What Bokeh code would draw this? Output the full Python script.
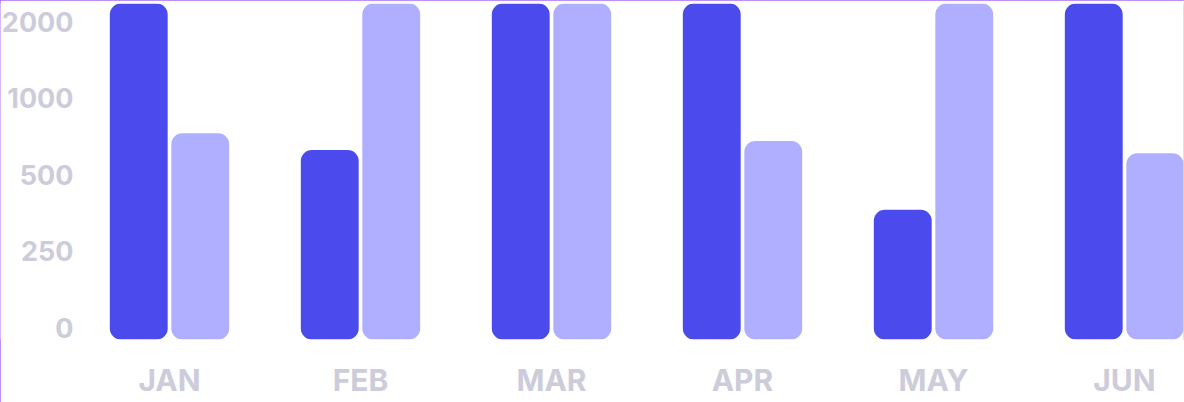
import numpy as np
from bokeh.plotting import figure
from bokeh.models import FixedTicker, Range1d, ColumnDataSource
from bokeh.core.properties import value
from bokeh.transform import dodge
from bokeh.embed import file_html
from bokeh.resources import INLINE

months = ["JAN", "FEB", "MAR", "APR", "MAY", "JUN"]
series_a = [2400, 740, 2400, 2400, 425, 2400]
series_b = [850, 2400, 2400, 800, 2400, 720]
tick_values = [0, 250, 500, 1000, 2000]
tick_labels = ["0", "250", "500", "1000", "2000"]

DARK = "#4B4BED"
LIGHT = "#B0AEFF"
TEXT = "#CDCCDA"
FONT = "Inter"


def to_index(v):
    v = np.asarray(v, dtype=float)
    idx = np.interp(v, tick_values, np.arange(len(tick_values)))
    over = v > tick_values[-1]
    slope = tick_values[-1] - tick_values[-2]
    idx[over] = (len(tick_values) - 1) + (v[over] - tick_values[-1]) / slope
    return idx


x = np.arange(len(months))
src = ColumnDataSource(dict(
    x=x,
    a=to_index(series_a),
    b=to_index(series_b),
))

PX_PER_CAT = 191.0
x_start = -169 / PX_PER_CAT
x_end = 5 + (1183 - 1124) / PX_PER_CAT

p = figure(width=1184, height=402, output_backend="svg", toolbar_location=None,
           x_range=Range1d(x_start, x_end), y_range=Range1d(0, float(to_index([2400])[0])),
           min_border_left=0, min_border_right=1, min_border_top=3, min_border_bottom=63)
p.styles = {"outline": "1px solid #A86CF5", "outline-offset": "-1px"}

off = 0.161
w = 0.303
p.vbar(x=dodge("x", -off), top="a", bottom=0, width=w, source=src, fill_color=DARK,
       line_color=None, border_radius=11)
p.vbar(x=dodge("x", off), top="b", bottom=0, width=w, source=src, fill_color=LIGHT,
       line_color=None, border_radius=11)

p.grid.visible = False
p.outline_line_color = None
p.background_fill_color = "white"
p.border_fill_color = "white"

# y tick labels drawn as text inside the plot area (they sit on their tick baseline,
# so their centres are nudged up slightly)
label_shift = 0.157
label_x = x_start + 73 / PX_PER_CAT
ysrc = ColumnDataSource(dict(
    y=[i + label_shift for i in range(len(tick_values))],
    t=tick_labels,
))
p.text(x=label_x, y="y", text="t", source=ysrc, text_align="right", text_baseline="middle",
       text_color=TEXT, text_font=value(FONT), text_font_style="bold", text_font_size="27px")
p.yaxis.visible = False

p.xaxis.ticker = FixedTicker(ticks=[int(i) for i in x])
p.xaxis.major_label_overrides = {int(i): m for i, m in zip(x, months)}
p.xaxis.axis_line_color = None
p.xaxis.major_tick_line_color = None
p.xaxis.minor_tick_line_color = None
p.xaxis.major_label_text_color = TEXT
p.xaxis.major_label_text_font = FONT
p.xaxis.major_label_text_font_style = "bold"
p.xaxis.major_label_text_font_size = "30px"
p.xaxis.major_label_standoff = 16

open("out.html", "w").write(file_html(p, INLINE))
